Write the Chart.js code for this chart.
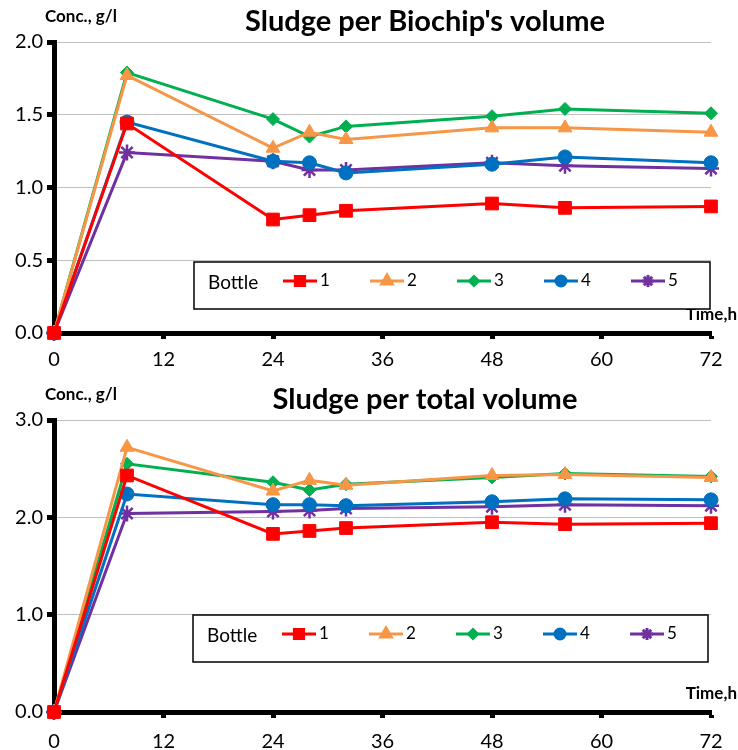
<!DOCTYPE html>
<html>
<head>
<meta charset="utf-8">
<script src="https://cdn.jsdelivr.net/npm/chart.js@4/dist/chart.umd.min.js"></script>
<style>
  body { margin: 0; background: #fff; }
  .wrap { width: 738px; height: 375px; }
</style>
</head>
<body>
<div class="wrap"><canvas id="biochip" width="738" height="375"></canvas></div>
<div class="wrap"><canvas id="total" width="738" height="375"></canvas></div>
<script>
// sampling times, h
const hours = [0, 8, 24, 28, 32, 48, 56, 72];
const bottles = ['1', '2', '3', '4', '5'];

// Sludge per Biochip's volume, g/l
const biochip1 = [0, 1.44, 0.78, 0.81, 0.84, 0.89, 0.86, 0.87];
const biochip2 = [0, 1.77, 1.27, 1.38, 1.33, 1.41, 1.41, 1.38];
const biochip3 = [0, 1.79, 1.47, 1.35, 1.42, 1.49, 1.54, 1.51];
const biochip4 = [0, 1.45, 1.18, 1.17, 1.10, 1.16, 1.21, 1.17];
const biochip5 = [0, 1.24, 1.18, 1.12, 1.12, 1.17, 1.15, 1.13];

// Sludge per total volume, g/l
const total1 = [0, 2.43, 1.83, 1.86, 1.89, 1.95, 1.93, 1.94];
const total2 = [0, 2.72, 2.27, 2.38, 2.33, 2.43, 2.44, 2.41];
const total3 = [0, 2.55, 2.36, 2.28, 2.34, 2.41, 2.45, 2.42];
const total4 = [0, 2.24, 2.13, 2.13, 2.12, 2.16, 2.19, 2.18];
const total5 = [0, 2.04, 2.06, 2.07, 2.09, 2.11, 2.13, 2.12];

const xTicks = [0, 12, 24, 36, 48, 60, 72];

const colors = ['#FF0000', '#F79646', '#00B050', '#0070C0', '#7030A0'];
const markers = ['rect', 'triangle', 'rectRot', 'circle', 'star'];
const markerSize = [9, 8, 6.5, 7, 8];
const legendSize = [6.5, 6, 4.5, 5, 6];

const FONT = 'Lato, Calibri, "Open Sans", sans-serif';

function buildDatasets(series) {
  return series.map((vals, i) => ({
    label: bottles[i],
    data: vals.map((v, k) => ({ x: hours[k], y: v })),
    borderColor: colors[i],
    backgroundColor: colors[i],
    pointBackgroundColor: colors[i],
    pointBorderColor: colors[i],
    pointStyle: markers[i],
    pointRadius: markerSize[i],
    pointBorderWidth: markers[i] === 'star' ? 2.5 : 1,
    borderWidth: 3,
    tension: 0,
    clip: false
  }));
}

// titles, axis captions and the boxed legend inside the plot
const decorations = {
  id: 'decorations',
  afterDraw(chart, args, opts) {
    const ctx = chart.ctx;
    ctx.save();
    ctx.fillStyle = '#000';
    ctx.textBaseline = 'middle';

    ctx.font = 'bold 29px ' + FONT;
    ctx.textAlign = 'center';
    ctx.fillText(opts.title, 425, opts.titleY);

    ctx.font = 'bold 17px ' + FONT;
    ctx.textAlign = 'left';
    ctx.fillText('Conc., g/l', 45, opts.titleY - 5);
    ctx.textAlign = 'right';
    ctx.fillText('Time,h', 737, chart.chartArea.bottom - 18);

    // legend box
    const b = opts.box;
    ctx.strokeStyle = '#000';
    ctx.lineWidth = 1.5;
    ctx.fillStyle = '#fff';
    ctx.fillRect(b.x, b.y, b.w, b.h);
    ctx.strokeRect(b.x, b.y, b.w, b.h);

    const cy = b.y + 19;
    ctx.fillStyle = '#000';
    ctx.font = '19px ' + FONT;
    ctx.textAlign = 'left';
    ctx.fillText('Bottle', b.x + 14, cy + 2);

    chart.data.datasets.forEach((ds, i) => {
      const x0 = b.x + 89 + i * 87;
      ctx.strokeStyle = ds.borderColor;
      ctx.lineWidth = 3;
      ctx.beginPath();
      ctx.moveTo(x0, cy);
      ctx.lineTo(x0 + 34, cy);
      ctx.stroke();
      ctx.fillStyle = ds.borderColor;
      Chart.helpers.drawPoint(ctx, {
        pointStyle: ds.pointStyle,
        radius: legendSize[i],
        rotation: 0,
        borderWidth: ds.pointStyle === 'star' ? 2.5 : 1
      }, x0 + 17, cy);
      ctx.fillStyle = '#000';
      ctx.font = '17px ' + FONT;
      ctx.fillText(ds.label, x0 + 37, cy);
    });
    ctx.restore();
  }
};

function makeChart(id, series, yMax, yStep, pad, xHeight, tickPad, title, titleY, box) {
  return new Chart(document.getElementById(id), {
    type: 'line',
    data: { datasets: buildDatasets(series) },
    plugins: [decorations],
    options: {
      responsive: false,
      animation: false,
      layout: { padding: { top: pad, right: 27, left: 0, bottom: 0 } },
      plugins: {
        legend: { display: false },
        tooltip: { enabled: false },
        decorations: { title, titleY, box }
      },
      scales: {
        x: {
          type: 'linear',
          min: 0,
          max: 72,
          afterBuildTicks: axis => { axis.ticks = xTicks.map(v => ({ value: v })); },
          afterFit: axis => { axis.height = xHeight; },
          border: { color: '#000', width: 5 },
          grid: {
            drawOnChartArea: false,
            drawTicks: true,
            tickLength: 6,
            tickWidth: 5,
            tickColor: '#000'
          },
          ticks: { color: '#000', font: { family: FONT, size: 20 }, padding: tickPad, maxRotation: 0 }
        },
        y: {
          min: 0,
          max: yMax,
          afterFit: axis => { axis.width = 54; },
          border: { color: '#000', width: 5 },
          grid: {
            color: '#BFBFBF',
            lineWidth: 1,
            tickLength: 7,
            tickWidth: 5,
            tickColor: '#000'
          },
          ticks: {
            stepSize: yStep,
            color: '#000',
            font: { family: FONT, size: 20 },
            padding: 4,
            callback: v => v.toFixed(1)
          }
        }
      }
    }
  });
}

makeChart('biochip', [biochip1, biochip2, biochip3, biochip4, biochip5], 2.0, 0.5, 42, 42, 9,
  "Sludge per Biochip's volume", 22, { x: 194, y: 262, w: 516, h: 47 });

makeChart('total', [total1, total2, total3, total4, total5], 3.0, 1.0, 45, 38, 12,
  'Sludge per total volume', 25, { x: 193, y: 240, w: 515, h: 47 });
</script>
</body>
</html>
